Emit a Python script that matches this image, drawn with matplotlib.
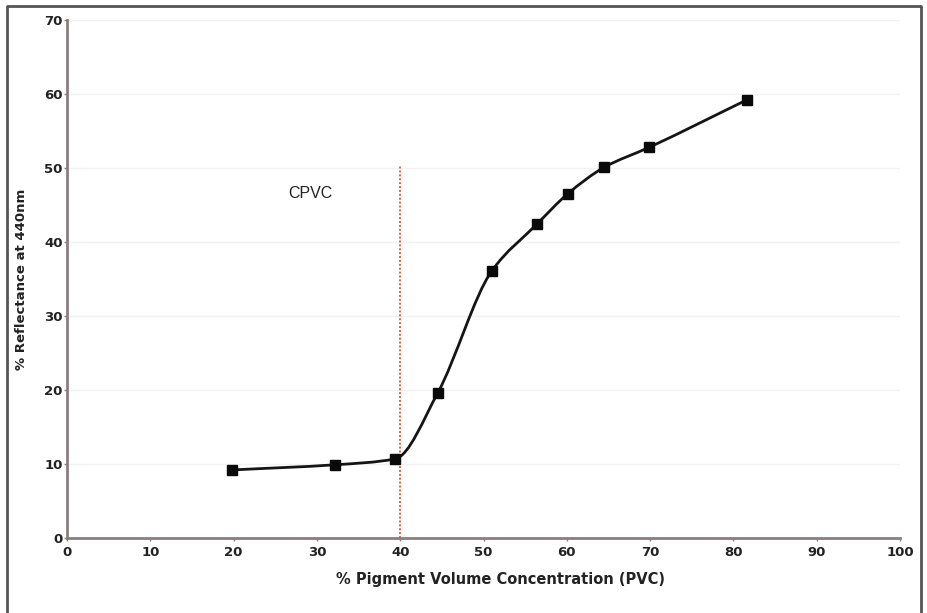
import numpy as np
import matplotlib
matplotlib.use("Agg")
import matplotlib.pyplot as plt
from matplotlib.path import Path
from matplotlib.patches import PathPatch
from matplotlib.lines import Line2D

plt.rcParams['font.family'] = ['DejaVu Sans']

# measured points
pvc = [19.8, 32.2, 39.4, 44.5, 51.0, 56.4, 60.1, 64.5, 69.9, 81.6]
reflectance = [9.2, 9.9, 10.7, 19.6, 36.1, 42.4, 46.5, 50.1, 52.8, 59.2]
cpvc_x = 40
cpvc_top = 50.3
x_ticks = [0, 10, 20, 30, 40, 50, 60, 70, 80, 90, 100]
y_ticks = [0, 10, 20, 30, 40, 50, 60, 70]


def smooth_path(x, y):
    # monotone cubic (Fritsch-Carlson) tangents -> bezier segments
    x = np.asarray(x, float)
    y = np.asarray(y, float)
    h = np.diff(x)
    d = np.diff(y) / h
    m = np.zeros_like(y)
    m[0], m[-1] = d[0], d[-1]
    for k in range(1, len(x) - 1):
        if d[k - 1] * d[k] <= 0:
            m[k] = 0
        else:
            w1 = 2 * h[k] + h[k - 1]
            w2 = h[k] + 2 * h[k - 1]
            m[k] = (w1 + w2) / (w1 / d[k - 1] + w2 / d[k])
    verts = [(x[0], y[0])]
    codes = [Path.MOVETO]
    for k in range(len(x) - 1):
        verts += [(x[k] + h[k] / 3, y[k] + m[k] * h[k] / 3),
                  (x[k + 1] - h[k] / 3, y[k + 1] - m[k + 1] * h[k] / 3),
                  (x[k + 1], y[k + 1])]
        codes += [Path.CURVE4] * 3
    return Path(verts, codes)


fig = plt.figure(figsize=(9.27, 6.13), dpi=100)
ax = fig.add_axes([0.0723, 0.1223, 0.8986, 0.8451])

ax.set_xlim(0, 100)
ax.set_ylim(0, 70)
for yv in y_ticks[1:]:
    ax.axhline(yv, color='#f2f2f2', lw=1, zorder=0)

ax.plot([cpvc_x, cpvc_x], [0, cpvc_top], color='#e8603a', lw=1.4,
        ls=(0, (1, 1)), zorder=2)
ax.add_patch(PathPatch(smooth_path(pvc, reflectance), fill=False,
                       ec='#151515', lw=2, zorder=3))
ax.plot(pvc, reflectance, ls='none', marker='s', ms=7, color='#0a0a0a',
        zorder=4)

ax.text(29.2, 46.6, 'CPVC', fontsize=11.5, color='#222222', ha='center',
        va='center', family='Liberation Sans')

for s in ['top', 'right']:
    ax.spines[s].set_visible(False)
for s in ['left', 'bottom']:
    ax.spines[s].set_color('#8a7f7f')
    ax.spines[s].set_linewidth(2)

ax.set_xticks(x_ticks)
ax.set_yticks(y_ticks)
ax.tick_params(length=2, width=1, color='#8a7f7f', labelsize=9.5,
               pad=4, labelcolor='#222222')
ax.tick_params(axis='y', pad=1)
for lab in ax.get_xticklabels() + ax.get_yticklabels():
    lab.set_fontweight('bold')

ax.set_xlabel('% Pigment Volume Concentration (PVC)', fontsize=10.5,
              fontweight='bold', color='#222222')
ax.xaxis.set_label_coords(0.52, -0.065)
ax.set_ylabel('% Reflectance at 440nm', fontsize=9.5, fontweight='bold',
              color='#222222', labelpad=12)

# outer frame
fx0, fx1, fy1 = 7 / 927, 921 / 927, 1 - 6 / 613
fig.add_artist(Line2D([fx0, fx0, fx1, fx1], [0, fy1, fy1, 0],
                      transform=fig.transFigure, color='#555555', lw=2,
                      zorder=10))

fig.savefig('out.png', dpi=100)
